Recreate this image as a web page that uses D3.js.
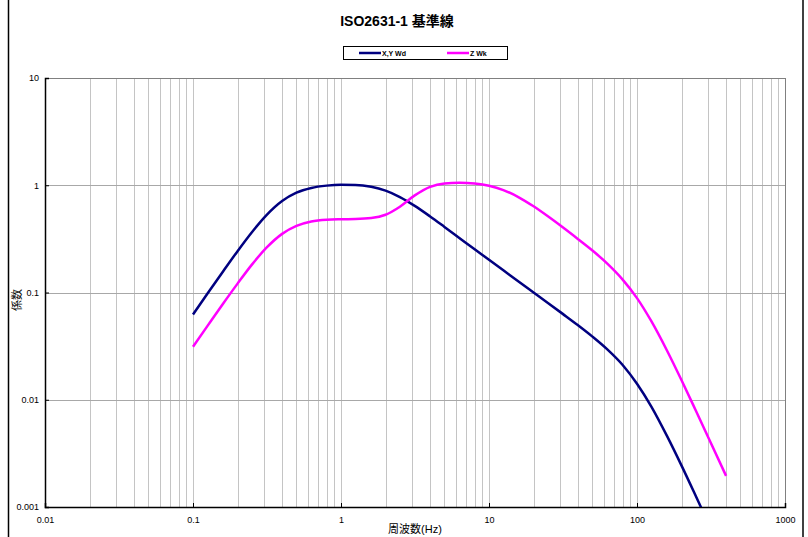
<!DOCTYPE html>
<html>
<head>
<meta charset="utf-8">
<script src="https://cdn.jsdelivr.net/npm/d3@7"></script>
<style>
body { margin: 0; background: #fff; }
text { font-family: "Liberation Sans", "Noto Sans CJK JP", sans-serif; }
</style>
</head>
<body>
<div id="chart"></div>
<script>
// frequencies (Hz) and weighting factors
let freqs = [0.1, 0.125, 0.16, 0.2, 0.25, 0.315, 0.4, 0.5, 0.63, 0.8, 1, 1.25, 1.6, 2, 2.5, 3.15, 4, 5, 6.3, 8,
	10, 12.5, 16, 20, 25, 31.5, 40, 50, 63, 80, 100, 125, 160, 200, 250, 315, 400];
let wd = [0.0624, 0.0973, 0.158, 0.243, 0.365, 0.530, 0.713, 0.853, 0.944, 0.992, 1.011, 1.008, 0.968, 0.890, 0.776, 0.642, 0.512, 0.409, 0.323, 0.253,
	0.202, 0.161, 0.125, 0.100, 0.0800, 0.0632, 0.0494, 0.0388, 0.0295, 0.0211, 0.0141, 0.00863, 0.00455, 0.00243, 0.00126, 0.000631, 0.000305];
let wk = [0.0312, 0.0486, 0.0790, 0.121, 0.182, 0.263, 0.352, 0.418, 0.459, 0.477, 0.482, 0.484, 0.494, 0.531, 0.631, 0.804, 0.967, 1.039, 1.054, 1.036,
	0.988, 0.902, 0.768, 0.636, 0.513, 0.405, 0.314, 0.246, 0.186, 0.132, 0.0887, 0.0540, 0.0285, 0.0152, 0.0079, 0.00398, 0.00195];
let seriesNames = ['X,Y Wd', 'Z Wk'];
let seriesColors = ['#000080', '#ff00ff'];
let xTicks = [0.01, 0.1, 1, 10, 100, 1000];
let yTicks = [0.001, 0.01, 0.1, 1, 10];

let width = 808;
let height = 537;
let plot = {left: 45, right: 785, top: 78, bottom: 507};

let svg = d3.select('#chart')
	.append('svg')
	.attr('width', width)
	.attr('height', height);

// outer frame (left & right edges visible)
svg.append('line').attr('x1', 8.5).attr('x2', 8.5).attr('y1', 0).attr('y2', height)
	.attr('stroke', '#000').attr('stroke-width', 1.5);
svg.append('line').attr('x1', 803).attr('x2', 803).attr('y1', 0).attr('y2', height)
	.attr('stroke', '#000').attr('stroke-width', 1.5);

let x = d3.scaleLog().domain([0.01, 1000]).range([plot.left, plot.right]);
let y = d3.scaleLog().domain([0.001, 10]).range([plot.bottom, plot.top]);

// minor vertical grid
let minor = [];
for (let d = 0.01; d < 1000; d *= 10) {
	for (let k = 2; k <= 9; k++) minor.push(+(d * k).toPrecision(3));
}
svg.append('g').selectAll('line')
	.data(minor.concat(xTicks.slice(1, -1)))
	.enter().append('line')
	.attr('x1', d => Math.round(x(d)) + 0.5).attr('x2', d => Math.round(x(d)) + 0.5)
	.attr('y1', plot.top).attr('y2', plot.bottom)
	.attr('stroke', '#c4c4c4').attr('stroke-width', 1);

// horizontal grid at decades
svg.append('g').selectAll('line')
	.data(yTicks.slice(1, -1))
	.enter().append('line')
	.attr('x1', plot.left).attr('x2', plot.right)
	.attr('y1', d => Math.round(y(d)) + 0.5).attr('y2', d => Math.round(y(d)) + 0.5)
	.attr('stroke', '#a8a8a8').attr('stroke-width', 1);

// plot frame
svg.append('rect')
	.attr('x', plot.left + 0.5).attr('y', plot.top + 0.5)
	.attr('width', plot.right - plot.left).attr('height', plot.bottom - plot.top)
	.attr('fill', 'none').attr('stroke', '#808080');

// axes
let xAxis = svg.append('g')
	.attr('transform', 'translate(0,' + plot.bottom + ')')
	.call(d3.axisBottom(x).tickValues(xTicks).tickFormat(d => String(d)).tickSize(-4).tickPadding(10));
let yAxis = svg.append('g')
	.attr('transform', 'translate(' + plot.left + ',0)')
	.call(d3.axisLeft(y).tickValues(yTicks).tickFormat(d => String(d)).tickSize(-4).tickPadding(6));
[xAxis, yAxis].forEach(a => {
	a.select('.domain').attr('stroke', '#000').attr('stroke-width', 1.5);
	a.selectAll('.tick line').attr('stroke', '#000');
	a.selectAll('.tick text').attr('font-size', 9).attr('fill', '#000')
		.attr('font-family', '"Liberation Sans", sans-serif');
});

// clipped lines
svg.append('clipPath').attr('id', 'clip')
	.append('rect')
	.attr('x', plot.left).attr('y', plot.top)
	.attr('width', plot.right - plot.left).attr('height', plot.bottom - plot.top);

let line = d3.line()
	.x(d => x(d[0]))
	.y(d => y(d[1]))
	.curve(d3.curveMonotoneX);

[wd, wk].forEach((vals, i) => {
	svg.append('path')
		.datum(freqs.map((f, j) => [f, vals[j]]))
		.attr('clip-path', 'url(#clip)')
		.attr('d', line)
		.attr('fill', 'none')
		.attr('stroke', seriesColors[i])
		.attr('stroke-width', 2.5);
});

// title
svg.append('text')
	.attr('x', 397).attr('y', 26)
	.attr('text-anchor', 'middle')
	.attr('font-size', 14).attr('font-weight', 'bold')
	.text('ISO2631-1 基準線');

// legend
let legend = svg.append('g');
legend.append('rect')
	.attr('x', 343.5).attr('y', 46.5).attr('width', 164).attr('height', 13)
	.attr('fill', '#fff').attr('stroke', '#000');
let legX = [359, 447];
seriesNames.forEach((name, i) => {
	legend.append('line')
		.attr('x1', legX[i]).attr('x2', legX[i] + 22)
		.attr('y1', 53).attr('y2', 53)
		.attr('stroke', seriesColors[i]).attr('stroke-width', 2.5);
	legend.append('text')
		.attr('x', legX[i] + 23).attr('y', 56)
		.attr('font-size', 7).attr('font-weight', 'bold')
		.text(name);
});

// axis titles
svg.append('text')
	.attr('x', 415).attr('y', 533)
	.attr('text-anchor', 'middle')
	.attr('font-size', 11)
	.text('周波数(Hz)');
svg.append('text')
	.attr('transform', 'translate(21,300) rotate(-90)')
	.attr('text-anchor', 'middle')
	.attr('font-size', 11)
	.text('係数');
</script>
</body>
</html>
